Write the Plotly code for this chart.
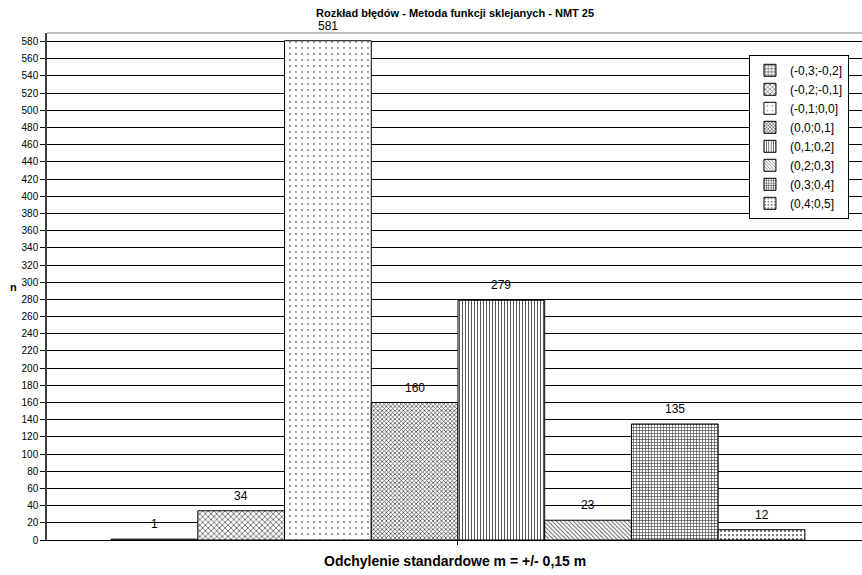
import plotly.graph_objects as go

# Error distribution for the spline method, DEM 25
classes = ["(-0,3;-0,2]", "(-0,2;-0,1]", "(-0,1;0,0]", "(0,0;0,1]",
           "(0,1;0,2]", "(0,2;0,3]", "(0,3;0,4]", "(0,4;0,5]"]
counts = [1, 34, 581, 160, 279, 23, 135, 12]
y_ticks = list(range(0, 581, 20))

# hatch pattern per class (shape, size, solidity, ink colour)
patterns = [("+", 4, 0.3, "#333333"), ("x", 4, 0.3, "#333333"),
            (".", 6, 0.08, "#777777"), ("x", 3, 0.4, "#333333"),
            ("|", 3, 0.3, "#444444"), ("\\", 3, 0.3, "#555555"),
            ("+", 3, 0.4, "#444444"), (".", 4, 0.2, "#555555")]

FONT = "Liberation Sans, Arial, sans-serif"
BARGAP = 0.156

fig = go.Figure()
for name, val, (shape, size, sol, ink) in zip(classes, counts, patterns):
    fig.add_trace(go.Bar(
        x=[""], y=[val], name=name,
        marker=dict(color="white",
                    line=dict(color="black", width=1),
                    pattern=dict(shape=shape, size=size, solidity=sol,
                                 fgcolor=ink, bgcolor="white",
                                 fillmode="replace")),
        hoverinfo="skip",
    ))

# value labels above each bar
n = len(counts)
group_w = 1 - BARGAP
for i, val in enumerate(counts):
    xc = -group_w / 2 + (i + 0.5) * group_w / n
    fig.add_annotation(x=xc, y=val, xref="x", yref="y", text=str(val),
                       showarrow=False, yshift=15, yanchor="middle",
                       font=dict(family=FONT, size=12, color="black"))

fig.add_annotation(text="<b>Rozkład błędów - Metoda funkcji sklejanych - NMT 25</b>",
                   xref="paper", yref="paper", x=0.5, y=1, yshift=20,
                   yanchor="middle", showarrow=False,
                   font=dict(family=FONT, size=11, color="black"))
fig.add_annotation(text="<b>n</b>", xref="paper", yref="paper",
                   x=-0.048, y=0.499, showarrow=False, yanchor="middle",
                   font=dict(family=FONT, size=11, color="black"))
fig.add_annotation(text="<b>Odchylenie standardowe m = +/- 0,15 m</b>",
                   xref="paper", yref="paper", x=0.5, y=0, yshift=-21,
                   yanchor="middle", showarrow=False,
                   font=dict(family=FONT, size=14, color="black"))

# top border of the plot area
fig.add_shape(type="line", xref="paper", yref="paper", x0=0, x1=1, y0=1, y1=1,
              line=dict(color="#808080", width=1))

fig.update_layout(
    width=862, height=575,
    margin=dict(l=47, r=0, t=33, b=35),
    paper_bgcolor="white", plot_bgcolor="white",
    barmode="group", bargap=BARGAP, bargroupgap=0,
    showlegend=True,
    legend=dict(x=0.984, y=0.957, xanchor="right", yanchor="top",
                bgcolor="white", bordercolor="black", borderwidth=1,
                font=dict(family=FONT, size=12, color="black"),
                tracegroupgap=0, itemwidth=30),
    font=dict(family=FONT, size=10, color="black"),
)
fig.update_xaxes(type="category", range=[-0.5, 0.4915],
                 showline=True, linecolor="black", linewidth=1,
                 ticks="outside", ticklen=4, tickcolor="black",
                 showticklabels=False, showgrid=False, zeroline=False,
                 fixedrange=True)
fig.update_yaxes(range=[0, 590], tickvals=y_ticks,
                 showline=True, linecolor="#404040", linewidth=1.5,
                 ticks="outside", ticklen=5, tickcolor="black",
                 showgrid=True, gridcolor="black", gridwidth=1,
                 zeroline=False, tickfont=dict(family=FONT, size=10, color="black"),
                 fixedrange=True)

fig.write_html("out.html")
